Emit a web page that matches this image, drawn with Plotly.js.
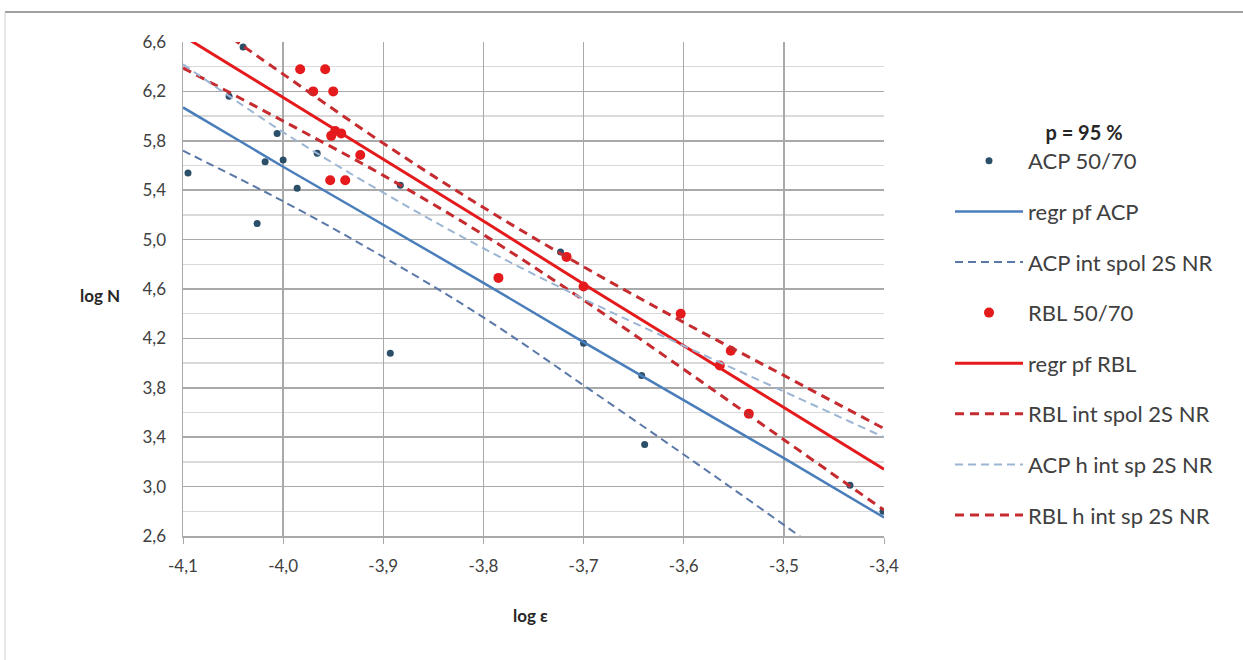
<!DOCTYPE html>
<html>
<head>
<meta charset="utf-8">
<script src="https://cdn.plot.ly/plotly-3.0.1.min.js"></script>
<style>
html,body{margin:0;padding:0;background:#fff;}
#chart{width:1243px;height:660px;}
</style>
</head>
<body>
<div id="chart"></div>
<script>
// ---- data ----
const acpX = [-4.040,-4.054,-4.006,-4.095,-4.018,-4.000,-3.986,-4.026,-3.966,-3.883,-3.893,-3.723,-3.700,-3.642,-3.639,-3.434,-3.401];
const acpY = [6.56,6.16,5.86,5.54,5.63,5.645,5.415,5.13,5.70,5.44,4.08,4.90,4.16,3.90,3.34,3.01,2.80];

const rblX = [-3.983,-3.958,-3.970,-3.950,-3.948,-3.942,-3.952,-3.923,-3.953,-3.938,-3.785,-3.717,-3.700,-3.603,-3.553,-3.564,-3.535];
const rblY = [6.38,6.38,6.20,6.20,5.88,5.86,5.84,5.685,5.48,5.48,4.69,4.86,4.62,4.40,4.10,3.98,3.59];

const lineX   = [-4.1,-4.0,-3.9,-3.8,-3.7,-3.6,-3.5,-3.4];
const acpRegr = [6.07,5.59,5.12,4.65,4.17,3.70,3.23,2.75];
const acpLow  = [5.72,5.31,4.86,4.37,3.82,3.26,2.69,2.10];
const acpUp   = [6.42,5.87,5.38,4.93,4.52,4.14,3.77,3.40];
const rblRegr = [6.65,6.15,5.65,5.15,4.64,4.14,3.64,3.14];
const rblLow  = [6.39,5.96,5.52,5.04,4.51,3.95,3.38,2.81];
const rblUp   = [6.91,6.34,5.78,5.26,4.78,4.33,3.90,3.47];

const xTickVals   = [-4.1,-4.0,-3.9,-3.8,-3.7,-3.6,-3.5,-3.4];
const xTickLabels = ["-4,1","-4,0","-3,9","-3,8","-3,7","-3,6","-3,5","-3,4"];

const seriesNames = ["ACP 50/70","regr pf ACP","ACP int spol 2S NR","RBL 50/70","regr pf RBL","RBL int spol 2S NR","ACP h int sp 2S NR","RBL h int sp 2S NR"];
const legendTitle = "p = 95 %";
const xTitle = "log ε";
const yTitle = "log N";

// ---- styling ----
const cAcpPt = "#2b4f69", cAcp = "#4a7ebb", cAcpLow = "#5a78a8", cAcpUp = "#9bb5d3";
const cRbl = "#e41a1c", cRblDash = "#c62b2f";
const font = "Lato, 'Open Sans', sans-serif";

const traces = [
  {x: acpX, y: acpY, mode: "markers", name: seriesNames[0], legendgroup: "g0",
   marker: {color: cAcpPt, size: 7}},
  {x: lineX, y: acpRegr, mode: "lines", name: seriesNames[1], legendgroup: "g1",
   line: {color: cAcp, width: 2.5}},
  {x: lineX, y: acpLow, mode: "lines", name: seriesNames[2], legendgroup: "g2",
   line: {color: cAcpLow, width: 2, dash: "8px,5px", shape: "spline"}},
  {x: rblX, y: rblY, mode: "markers", name: seriesNames[3], legendgroup: "g3",
   marker: {color: cRbl, size: 10}},
  {x: lineX, y: rblRegr, mode: "lines", name: seriesNames[4], legendgroup: "g4",
   line: {color: cRbl, width: 3}},
  {x: lineX, y: rblLow, mode: "lines", name: seriesNames[5], legendgroup: "g5",
   line: {color: cRblDash, width: 3, dash: "9px,6px", shape: "spline"}},
  {x: lineX, y: acpUp, mode: "lines", name: seriesNames[6], legendgroup: "g6",
   line: {color: cAcpUp, width: 2, dash: "8px,5px", shape: "spline"}},
  {x: lineX, y: rblUp, mode: "lines", name: seriesNames[7], legendgroup: "g7",
   line: {color: cRblDash, width: 3, dash: "9px,6px", shape: "spline"}}
];

const layout = {
  width: 1243, height: 660,
  margin: {l: 183, r: 359, t: 42, b: 124},
  paper_bgcolor: "#ffffff", plot_bgcolor: "#ffffff",
  separators: ", ",
  font: {family: font, size: 16, color: "#404040"},
  showlegend: true,
  xaxis: {
    range: [-4.1, -3.4], tickmode: "array", tickvals: xTickVals, ticktext: xTickLabels,
    showgrid: true, gridcolor: "#a9a9a9", gridwidth: 1.5,
    zeroline: false, showline: true, linecolor: "#a9a9a9", linewidth: 1.5,
    ticks: "outside", ticklen: 6, tickcolor: "#a9a9a9", ticklabelstandoff: 8,
    tickfont: {family: font, size: 17, color: "#404040"}
  },
  yaxis: {
    range: [2.6, 6.6], tick0: 2.6, dtick: 0.4, tickformat: ".1f",
    showgrid: true, gridcolor: "#a9a9a9", gridwidth: 1.5,
    minor: {dtick: 0.2, showgrid: true, gridcolor: "#d9d9d9", gridwidth: 1.5},
    zeroline: false, showline: true, linecolor: "#a9a9a9", linewidth: 1.5,
    ticks: "", ticklabelstandoff: 12,
    tickfont: {family: font, size: 17, color: "#404040"}
  },
  legend: {
    x: (950 - 183) / 701, xanchor: "left", y: (536 - 114) / 494, yanchor: "top",
    bgcolor: "rgba(0,0,0,0)",
    traceorder: "grouped", tracegroupgap: 19, itemwidth: 68,
    font: {family: font, size: 22, color: "#404040"},
    title: {text: "<b>" + legendTitle + "</b>", side: "top center",
            font: {family: font, size: 20, color: "#262626"}}
  },
  annotations: [
    {text: "<b>" + yTitle + "</b>", xref: "paper", yref: "paper",
     x: (100 - 183) / 701, y: (536 - 295) / 494, xanchor: "center", yanchor: "middle",
     showarrow: false, font: {family: font, size: 17, color: "#262626"}},
    {text: "<b>" + xTitle + "</b>", xref: "paper", yref: "paper",
     x: (530 - 183) / 701, y: (536 - 615) / 494, xanchor: "center", yanchor: "middle",
     showarrow: false, font: {family: font, size: 17, color: "#262626"}}
  ],
  shapes: [
    {type: "line", xref: "paper", yref: "paper",
     x0: (5 - 183) / 701, x1: (1243 - 183) / 701, y0: (536 - 12) / 494, y1: (536 - 12) / 494,
     line: {color: "#a0a0a0", width: 2}},
    {type: "line", xref: "paper", yref: "paper",
     x0: (5 - 183) / 701, x1: (5 - 183) / 701, y0: (536 - 12) / 494, y1: (536 - 660) / 494,
     line: {color: "#d0d0d0", width: 1}}
  ]
};

Plotly.newPlot("chart", traces, layout, {displayModeBar: false, staticPlot: true});
</script>
</body>
</html>
